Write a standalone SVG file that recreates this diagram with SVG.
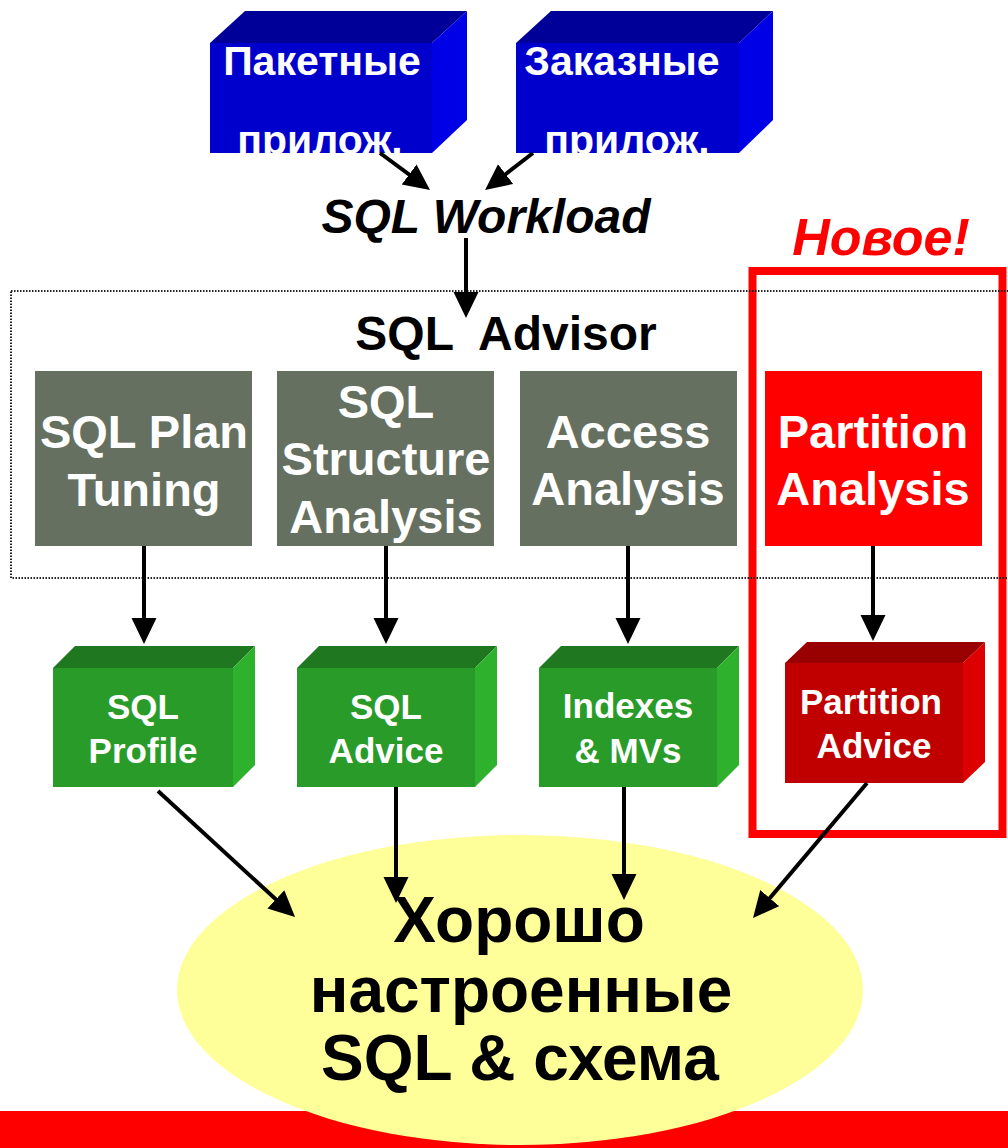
<svg xmlns="http://www.w3.org/2000/svg" width="1008" height="1148" viewBox="0 0 1008 1148">
  <style>
    text { font-family: "Liberation Sans", Arial, sans-serif; font-weight: bold; text-anchor: middle; }
    .w { fill: #FFFFFF; }
    .blk { fill: #000000; }
    .blue-front { fill: #0000CC; }
    .blue-top { fill: #000099; }
    .blue-side { fill: #0000E6; }
    .grey { fill: #667060; }
    .green-front { fill: #299B29; }
    .green-top { fill: #1F781F; }
    .green-side { fill: #2EB22E; }
    .red-front { fill: #C00000; }
    .red-top { fill: #990000; }
    .red-side { fill: #DD0000; }
    .t41 { font-size: 41px; }
    .t47 { font-size: 47px; }
    .t35 { font-size: 35px; }
    .arrow { stroke: #000000; stroke-width: 4; fill: none; marker-end: url(#head); }
  </style>
  <defs>
    <marker id="head" markerUnits="userSpaceOnUse" markerWidth="26" markerHeight="26" refX="20" refY="12.5" orient="auto">
      <path d="M0,0 L26,12.5 L0,25 Z" fill="#000000"/>
    </marker>
    <clipPath id="clip-batch"><rect x="210" y="43" width="222" height="110"/></clipPath>
    <clipPath id="clip-custom"><rect x="516" y="43" width="223" height="110"/></clipPath>
  </defs>

  <rect width="1008" height="1148" fill="#FFFFFF"/>

  <!-- bottom band -->
  <rect x="0" y="1111" width="1008" height="37" fill="#FF0000"/>

  <!-- result -->
  <g id="result">
    <ellipse cx="520" cy="990" rx="343" ry="155" fill="#FFFF99"/>
    <text class="blk" x="519" y="942" font-size="64">Хорошо</text>
    <text class="blk" x="521" y="1012" font-size="64">настроенные</text>
    <text class="blk" x="520" y="1080" font-size="64">SQL &amp; схема</text>
  </g>

  <!-- new feature frame -->
  <g id="new-frame">
    <rect x="752.5" y="271" width="250" height="563" fill="none" stroke="#FF0000" stroke-width="8"/>
    <text x="881" y="255" font-size="52" font-style="italic" fill="#FF0000">Новое!</text>
  </g>

  <!-- advisor boundary -->
  <g id="sql-advisor">
    <rect x="11" y="291" width="1010" height="287" fill="none" stroke="#222222" stroke-width="2" stroke-dasharray="1.5 1.5"/>
    <text class="blk" x="506" y="350" font-size="48" xml:space="preserve">SQL  Advisor</text>
  </g>

  <!-- sources -->
  <g id="batch-apps">
    <polygon class="blue-top" points="210,43 245,11 467,11 432,43"/>
    <polygon class="blue-side" points="432,43 467,11 467,120 432,153"/>
    <rect class="blue-front" x="210" y="43" width="222" height="110"/>
    <g clip-path="url(#clip-batch)">
      <text class="w t41" x="322" y="75">Пакетные</text>
      <text class="w t41" x="320" y="154">прилож.</text>
    </g>
  </g>
  <g id="custom-apps">
    <polygon class="blue-top" points="516,43 551,11 773,11 739,43"/>
    <polygon class="blue-side" points="739,43 773,11 773,120 739,153"/>
    <rect class="blue-front" x="516" y="43" width="223" height="110"/>
    <g clip-path="url(#clip-custom)">
      <text class="w t41" x="622" y="75">Заказные</text>
      <text class="w t41" x="627" y="154">прилож.</text>
    </g>
  </g>

  <g id="sql-workload">
    <text class="blk" x="486" y="233" font-size="48" font-style="italic">SQL Workload</text>
  </g>

  <!-- analysis stages -->
  <g id="plan-tuning">
    <rect class="grey" x="35" y="371" width="217" height="175"/>
    <text class="w t47" x="144" y="448">SQL Plan</text>
    <text class="w t47" x="144" y="506">Tuning</text>
  </g>
  <g id="structure-analysis">
    <rect class="grey" x="277" y="371" width="217" height="175"/>
    <text class="w t47" x="386" y="418">SQL</text>
    <text class="w t47" x="386" y="475">Structure</text>
    <text class="w t47" x="386" y="533">Analysis</text>
  </g>
  <g id="access-analysis">
    <rect class="grey" x="520" y="371" width="217" height="175"/>
    <text class="w t47" x="628" y="448">Access</text>
    <text class="w t47" x="628" y="505">Analysis</text>
  </g>
  <g id="partition-analysis">
    <rect x="765" y="371" width="217" height="175" fill="#FF0000"/>
    <text class="w t47" x="873" y="448">Partition</text>
    <text class="w t47" x="873" y="505">Analysis</text>
  </g>

  <!-- outputs -->
  <g id="sql-profile">
    <polygon class="green-top" points="53,668 75,646 255,646 233,668"/>
    <polygon class="green-side" points="233,668 255,646 255,765 233,787"/>
    <rect class="green-front" x="53" y="668" width="180" height="119"/>
    <text class="w t35" x="143" y="719">SQL</text>
    <text class="w t35" x="143" y="763">Profile</text>
  </g>
  <g id="sql-advice">
    <polygon class="green-top" points="297,668 319,646 497,646 475,668"/>
    <polygon class="green-side" points="475,668 497,646 497,765 475,787"/>
    <rect class="green-front" x="297" y="668" width="178" height="119"/>
    <text class="w t35" x="386" y="719">SQL</text>
    <text class="w t35" x="386" y="763">Advice</text>
  </g>
  <g id="indexes-mvs">
    <polygon class="green-top" points="539,668 561,646 739,646 717,668"/>
    <polygon class="green-side" points="717,668 739,646 739,765 717,787"/>
    <rect class="green-front" x="539" y="668" width="178" height="119"/>
    <text class="w t35" x="628" y="718">Indexes</text>
    <text class="w t35" x="628" y="763">&amp; MVs</text>
  </g>
  <g id="partition-advice">
    <polygon class="red-top" points="785,663 807,642 985,642 963,663"/>
    <polygon class="red-side" points="963,663 985,642 985,762 963,783"/>
    <rect class="red-front" x="785" y="663" width="178" height="120"/>
    <text class="w t35" x="871" y="714">Partition</text>
    <text class="w t35" x="874" y="758">Advice</text>
  </g>

  <!-- connectors -->
  <g id="connectors">
    <line class="arrow" x1="380" y1="153" x2="425.2" y2="186.4"/>
    <line class="arrow" x1="533" y1="153" x2="489.8" y2="186.3"/>
    <line class="arrow" x1="466" y1="238" x2="466" y2="312"/>
    <line class="arrow" x1="144" y1="546" x2="144" y2="638"/>
    <line class="arrow" x1="386" y1="546" x2="386" y2="638"/>
    <line class="arrow" x1="628" y1="546" x2="628" y2="638"/>
    <line class="arrow" x1="873" y1="546" x2="873" y2="635"/>
    <line class="arrow" x1="158" y1="791" x2="290.6" y2="912.9"/>
    <line class="arrow" x1="396" y1="787" x2="396" y2="897"/>
    <line class="arrow" x1="624" y1="787" x2="624" y2="894"/>
    <line class="arrow" x1="867" y1="783" x2="756.9" y2="913.4"/>
  </g>
</svg>
